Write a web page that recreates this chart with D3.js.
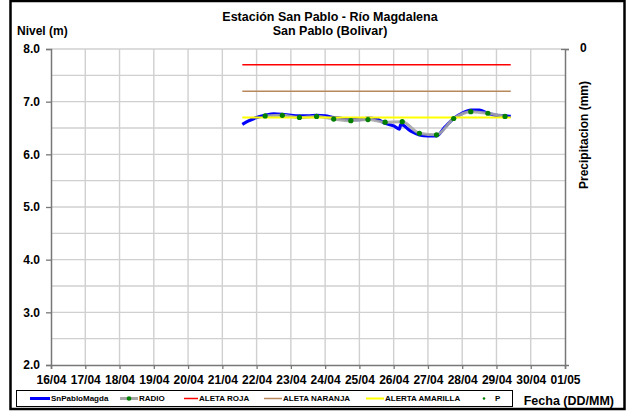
<!DOCTYPE html>
<html>
<head>
<meta charset="utf-8">
<script src="https://cdn.jsdelivr.net/npm/d3@7"></script>
<style>
  body { margin: 0; background: #fff; }
  svg { font-family: "Liberation Sans", Arial, sans-serif; font-weight: bold; }
</style>
</head>
<body>
<svg id="chart" width="628" height="411"></svg>
<script>
// fechas del eje x
const dias = ["16/04","17/04","18/04","19/04","20/04","21/04","22/04","23/04",
  "24/04","25/04","26/04","27/04","28/04","29/04","30/04","01/05"];
const nivelTicks = [2, 3, 4, 5, 6, 7, 8];

// SnPabloMagda (sensor)
const sensorFechas = ["21/04 14:00","21/04 18:00","22/04 00:00","22/04 06:00","22/04 12:00",
  "22/04 18:00","23/04 00:00","23/04 06:00","23/04 12:00","23/04 18:00","24/04 00:00",
  "24/04 06:00","24/04 12:00","24/04 18:00","25/04 00:00","25/04 06:00","25/04 12:00",
  "25/04 18:00","26/04 00:00","26/04 04:00","26/04 05:00","26/04 12:00","26/04 18:00",
  "27/04 00:00","27/04 06:00","27/04 12:00","27/04 18:00","28/04 00:00","28/04 06:00",
  "28/04 12:00","28/04 18:00","29/04 00:00","29/04 06:00","29/04 10:00"];
const sensorNivel = [6.57,6.63,6.70,6.74,6.77,6.76,6.74,6.73,6.73,6.74,6.73,6.70,6.68,6.66,
  6.66,6.69,6.67,6.59,6.54,6.48,6.57,6.44,6.37,6.35,6.35,6.52,6.68,6.78,6.84,6.84,6.78,
  6.74,6.73,6.72];

// RADIO (lecturas observador)
const radioFechas = ["22/04 06:00","22/04 18:00","23/04 06:00","23/04 18:00","24/04 06:00",
  "24/04 18:00","25/04 06:00","25/04 18:00","26/04 06:00","26/04 18:00","27/04 06:00",
  "27/04 18:00","28/04 06:00","28/04 18:00","29/04 06:00"];
const radioNivel = [6.73,6.74,6.70,6.72,6.67,6.64,6.66,6.61,6.62,6.40,6.37,6.68,6.81,6.78,6.72];

// umbrales de alerta
const alertas = [
  { nombre: "ALETA ROJA", nivel: 7.7, color: "#ff0000" },
  { nombre: "ALETA NARANJA", nivel: 7.2, color: "#b8875c" },
  { nombre: "ALERTA AMARILLA", nivel: 6.7, color: "#ffff00" }
];

const parse = d3.timeParse("%d/%m %H:%M");
const svg = d3.select("#chart");

let x = d3.scaleTime()
  .domain([parse("16/04 00:00"), parse("01/05 00:00")])
  .range([51, 565]);
let y = d3.scaleLinear().domain([2, 8]).range([365, 49]);

// marco
svg.append("rect").attr("x", 10.5).attr("y", 1).attr("width", 614).attr("height", 408)
  .attr("fill", "none").attr("stroke", "#000").attr("stroke-width", 2.5);

// grilla
let grid = svg.append("g");
d3.range(2.5, 8.01, 0.5).forEach(v => {
  grid.append("line").attr("x1", 51).attr("x2", 565)
    .attr("y1", y(v)).attr("y2", y(v))
    .attr("stroke", "#d0d0d0").attr("stroke-width", 1.4);
});
dias.slice(1, -1).forEach(d => {
  grid.append("line").attr("x1", x(parse(d + " 00:00"))).attr("x2", x(parse(d + " 00:00")))
    .attr("y1", 49).attr("y2", 365)
    .attr("stroke", "#d0d0d0").attr("stroke-width", 1.4);
});

// ejes
let yAxis = svg.append("g").attr("transform", "translate(51,0)")
  .call(d3.axisLeft(y).tickValues(nivelTicks).tickFormat(d3.format(".1f")).tickSize(5));
let xAxis = svg.append("g").attr("transform", "translate(0,365)")
  .call(d3.axisBottom(x).tickValues(dias.map(d => parse(d + " 00:00")))
    .tickFormat(d3.timeFormat("%d/%m")).tickSize(4));
let y2 = d3.scaleLinear().domain([0, 1]).range([49, 365]);
let y2Axis = svg.append("g").attr("transform", "translate(565,0)")
  .call(d3.axisRight(y2).tickValues([0]).tickFormat(d3.format("d")).tickSize(4));

[yAxis, xAxis, y2Axis].forEach(a => {
  a.select(".domain").attr("stroke", "#777").attr("stroke-width", 1.5);
  a.selectAll(".tick line").attr("stroke", "#777").attr("stroke-width", 1.3);
  a.selectAll("text").attr("fill", "#000").attr("font-size", 12).attr("font-weight", "bold")
    .attr("font-family", "'Liberation Sans', Arial, sans-serif");
});
y2Axis.select(".tick line").attr("x1", -4);
yAxis.selectAll("text").attr("x", -11);
xAxis.selectAll("text").attr("y", 10);
y2Axis.selectAll("text").attr("x", 15).attr("dy", "0.2em");

// series
let sensor = sensorFechas.map((f, i) => ({ t: parse(f), v: sensorNivel[i] }));
let radio = radioFechas.map((f, i) => ({ t: parse(f), v: radioNivel[i] }));

let linea = d3.line().x(d => x(d.t)).y(d => y(d.v));

svg.append("path").datum(sensor)
  .attr("d", linea.curve(d3.curveMonotoneX))
  .attr("fill", "none").attr("stroke", "#0000ff").attr("stroke-width", 3.2);

svg.append("path").datum(radio)
  .attr("d", d3.line().x(d => x(d.t)).y(d => y(d.v)).curve(d3.curveMonotoneX))
  .attr("fill", "none").attr("stroke", "#a6a6a6").attr("stroke-width", 3).attr("opacity", 0.9);

let t0 = sensor[0].t, t1 = sensor[sensor.length - 1].t;
alertas.forEach(a => {
  svg.append("line").attr("x1", x(t0)).attr("x2", x(t1))
    .attr("y1", y(a.nivel)).attr("y2", y(a.nivel))
    .attr("stroke", a.color).attr("stroke-width", a.nivel === 6.7 ? 2 : 1.5);
});

svg.append("g").selectAll("circle").data(radio).enter().append("circle")
  .attr("cx", d => x(d.t)).attr("cy", d => y(d.v)).attr("r", 2.6)
  .attr("fill", "#008000");

// titulos
svg.append("text").attr("x", 330).attr("y", 21).attr("text-anchor", "middle")
  .attr("font-size", 12.5).text("Estación San Pablo - Río Magdalena");
svg.append("text").attr("x", 330).attr("y", 35).attr("text-anchor", "middle")
  .attr("font-size", 12.5).text("San Pablo (Bolivar)");
svg.append("text").attr("x", 17).attr("y", 35).attr("font-size", 12).text("Nivel (m)");
svg.append("text").attr("transform", "translate(588,135) rotate(-90)")
  .attr("text-anchor", "middle").attr("font-size", 12).text("Precipitacion (mm)");
svg.append("text").attr("x", 614).attr("y", 405).attr("text-anchor", "end")
  .attr("font-size", 12.5).text("Fecha (DD/MM)");

// leyenda
let ley = svg.append("g");
ley.append("rect").attr("x", 16.5).attr("y", 390.5).attr("width", 496).attr("height", 16)
  .attr("fill", "#fff").attr("stroke", "#000").attr("stroke-width", 1);
let items = [
  { txt: "SnPabloMagda", x0: 30, x1: 50, color: "#0000ff", w: 3 },
  { txt: "RADIO", x0: 120, x1: 138, color: "#a6a6a6", w: 3, dot: true },
  { txt: alertas[0].nombre, x0: 184, x1: 198, color: alertas[0].color, w: 1.5 },
  { txt: alertas[1].nombre, x0: 264, x1: 282, color: alertas[1].color, w: 1.5 },
  { txt: alertas[2].nombre, x0: 366, x1: 384, color: alertas[2].color, w: 2 },
  { txt: "P", x0: null, x1: 490, dot: true }
];
items.forEach(it => {
  let cy = 398.5;
  if (it.x0 !== null) {
    ley.append("line").attr("x1", it.x0).attr("x2", it.x1).attr("y1", cy).attr("y2", cy)
      .attr("stroke", it.color).attr("stroke-width", it.w);
  }
  if (it.dot) {
    let cx = it.x0 !== null ? (it.x0 + it.x1) / 2 : 484;
    ley.append("circle").attr("cx", cx).attr("cy", cy)
      .attr("r", it.x0 !== null ? 2.3 : 1.3).attr("fill", "#008000");
  }
  ley.append("text").attr("x", it.x0 !== null ? it.x1 + 1 : 495).attr("y", cy + 2.9)
    .attr("font-size", 8).text(it.txt);
});
</script>
</body>
</html>
